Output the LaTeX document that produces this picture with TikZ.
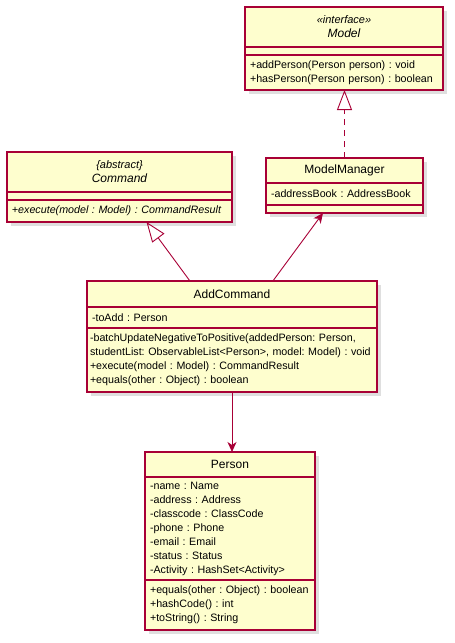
\documentclass[tikz,border=0pt]{standalone}
\usepackage{fontspec}
\setmainfont{Liberation Sans}
\usetikzlibrary{arrows.meta, positioning, calc, shadows}
\definecolor{umlred}{RGB}{168, 0, 54}
\definecolor{umlfill}{RGB}{254, 254, 206}
\frenchspacing

\begin{document}
\begin{tikzpicture}[x=1pt, y=-1pt,
  every node/.style={inner xsep=5pt, inner ysep=2pt, outer sep=0pt},
  part/.style={draw=umlred, fill=umlfill, line width=1.1pt, align=left,
    font=\fontsize{10.7}{14}\selectfont,
    drop shadow={shadow xshift=4pt, shadow yshift=-4pt, fill=black!25}},
  title/.style={part, align=center, font=\fontsize{12}{14}\selectfont, anchor=north west},
  link/.style={draw=umlred, line width=0.9pt},
  realize/.style={link, dash pattern=on 6pt off 5pt, -{Triangle[open, length=20pt, width=15pt]}},
  extend/.style={link, -{Triangle[open, length=20pt, width=15pt]}},
  uses/.style={link, -{Stealth[length=10pt, width=9pt, inset=3pt]}},
]
  \useasboundingbox (0,0) rectangle (455,643);

  % Model interface
  \node[title, text width=188pt, minimum height=40pt] (mdlTitle) at (245,7)
    {{\fontsize{11}{14}\selectfont\itshape «interface»}\\\itshape Model};
  \node[part, text width=188pt, minimum height=8pt, below=0pt of mdlTitle] (mdlAttr) {};
  \node[part, text width=188pt, minimum height=35pt, below=0pt of mdlAttr] (mdlOps)
    {+addPerson(Person person) : void\\+hasPerson(Person person) : boolean};

  % abstract Command
  \node[title, text width=215pt, minimum height=40pt] (cmdTitle) at (7,152)
    {{\fontsize{11}{14}\selectfont\itshape \{abstract\}}\\\itshape Command};
  \node[part, text width=215pt, minimum height=8pt, below=0pt of cmdTitle] (cmdAttr) {};
  \node[part, text width=215pt, minimum height=22pt, below=0pt of cmdAttr] (cmdOps)
    {\itshape +execute(model : Model) : CommandResult};

  % ModelManager
  \node[title, text width=147pt, minimum height=25pt] (mmTitle) at (266,158) {ModelManager};
  \node[part, text width=147pt, minimum height=22pt, below=0pt of mmTitle] (mmAttr)
    {-addressBook : AddressBook};
  \node[part, text width=147pt, minimum height=8pt, below=0pt of mmAttr] (mmOps) {};

  % AddCommand
  \node[title, text width=280pt, minimum height=26pt] (acTitle) at (87,281) {AddCommand};
  \node[part, text width=280pt, minimum height=21pt, below=0pt of acTitle] (acAttr)
    {-toAdd : Person};
  \node[part, text width=284pt, inner xsep=3pt, minimum height=64pt, below=0pt of acAttr] (acOps)
    {-batchUpdateNegativeToPositive(addedPerson: Person,\\
     studentList: ObservableList<Person>, model: Model) : void\\
     +execute(model : Model) : CommandResult\\
     +equals(other : Object) : boolean};

  % Person
  \node[title, text width=160pt, minimum height=25pt] (psTitle) at (145,452) {Person};
  \node[part, text width=160pt, minimum height=103pt, below=0pt of psTitle] (psAttr)
    {-name : Name\\-address : Address\\-classcode : ClassCode\\-phone : Phone\\
     -email : Email\\-status : Status\\-Activity : HashSet<Activity>};
  \node[part, text width=160pt, minimum height=50pt, below=0pt of psAttr] (psOps)
    {+equals(other : Object) : boolean\\+hashCode() : int\\+toString() : String};

  \draw[realize] (mmTitle.north) -- (mmTitle.north |- mdlOps.south);
  \draw[extend] ($(acTitle.north west)!0.355!(acTitle.north east)$)
    -- ($(cmdOps.south west)!0.62!(cmdOps.south east)$);
  \draw[uses] ($(acTitle.north west)!0.641!(acTitle.north east)$)
    -- ($(mmOps.south west)!0.363!(mmOps.south east)$);
  \draw[uses] (acOps.south) -- (acOps.south |- psTitle.north);
\end{tikzpicture}
\end{document}
